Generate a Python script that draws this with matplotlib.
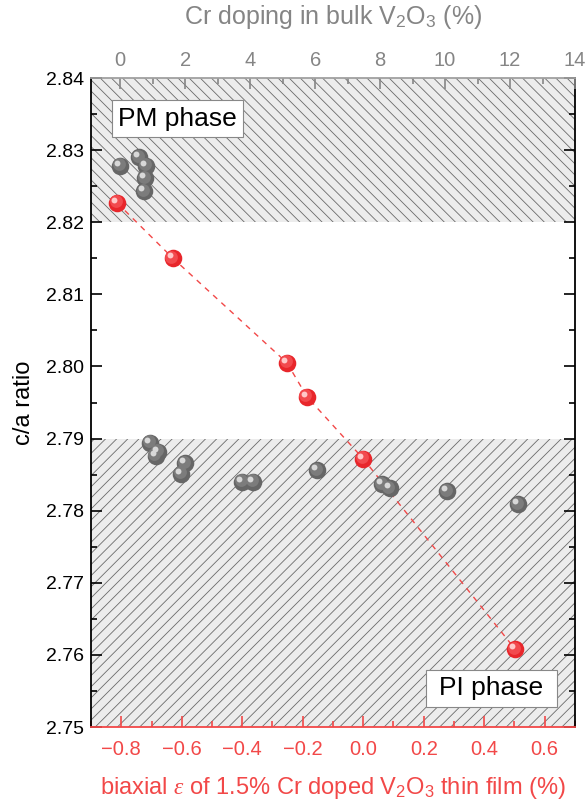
import matplotlib

matplotlib.use("Agg")
import matplotlib.pyplot as plt
import numpy as np
from matplotlib.patches import Rectangle
from matplotlib.transforms import offset_copy

plt.rcParams["font.family"] = ["Liberation Sans", "DejaVu Sans"]
plt.rcParams["hatch.linewidth"] = 0.6
plt.rcParams["mathtext.fontset"] = "custom"
plt.rcParams["mathtext.rm"] = "Liberation Sans"
plt.rcParams["mathtext.it"] = "Liberation Serif:italic"

# thin film strain (bottom axis) vs c/a
strain = [-0.814, -0.629, -0.252, -0.186, 0.0, 0.502]
ca_film = [2.8227, 2.8150, 2.8005, 2.7958, 2.7872, 2.7608]

# bulk Cr doping (top axis) vs c/a
cr_pm = [0.0, 0.58, 0.80, 0.77, 0.74]
ca_pm = [2.8278, 2.8290, 2.8278, 2.8261, 2.8243]
cr_pi = [0.92, 1.10, 1.17, 2.00, 1.88, 3.75, 4.09, 6.06, 8.06, 8.30, 10.06, 12.25]
ca_pi = [2.7894, 2.7876, 2.7882, 2.7866, 2.7851, 2.7840, 2.7840, 2.7856, 2.7837, 2.7831, 2.7827, 2.7809]

RED = "#f24848"
GRAY = "#858585"


def sphere(ax, x, y, base, mid, light, z=5):
    fig = ax.figure
    ax.scatter(x, y, s=160, color=base, zorder=z, linewidths=0)
    t1 = offset_copy(ax.transData, fig=fig, x=-1.5, y=1.5, units="dots")
    ax.scatter(x, y, s=85, color=mid, zorder=z + 0.1, linewidths=0, transform=t1)
    t2 = offset_copy(ax.transData, fig=fig, x=-3, y=3, units="dots")
    ax.scatter(x, y, s=18, color=light, zorder=z + 0.2, linewidths=0, transform=t2)


def label_box(ax, x0, x1, y0, y1, text):
    ax.add_patch(Rectangle((x0, y0), x1 - x0, y1 - y0, transform=ax.transAxes,
                           facecolor="white", edgecolor="#888888", lw=0.8, zorder=9))
    ax.text((x0 + x1) / 2, (y0 + y1) / 2, text, transform=ax.transAxes, fontsize=19,
            ha="center", va="center", zorder=10)


fig = plt.figure(figsize=(5.86, 8.06), dpi=100)
ax = fig.add_axes([0.1553, 0.098, 0.8259, 0.8052])

ax.axhspan(2.82, 2.84, facecolor="#ececec", edgecolor="#6a6a6a", hatch="\\\\\\", linewidth=0, zorder=0)
ax.axhspan(2.75, 2.79, facecolor="#ececec", edgecolor="#6a6a6a", hatch="///", linewidth=0, zorder=0)

ax.plot(strain, ca_film, ls=(0, (4, 4)), color=RED, lw=1, zorder=3)
sphere(ax, strain, ca_film, "#e8262b", "#f24a4e", "#ffc8c8")

ax.set_xlim(-0.9, 0.7)
ax.set_ylim(2.75, 2.84)
ax.set_xticks(np.arange(-0.8, 0.61, 0.2))
ax.set_xticks(np.arange(-0.9, 0.71, 0.1), minor=True)
ax.set_xticklabels(["\u22120.8", "\u22120.6", "\u22120.4", "\u22120.2", "0.0", "0.2", "0.4", "0.6"])
ax.set_yticks(np.arange(2.75, 2.8401, 0.01))
ax.set_yticks(np.arange(2.75, 2.8401, 0.005), minor=True)
ax.set_yticklabels([f"{v:.2f}" for v in np.arange(2.75, 2.8401, 0.01)])
ax.tick_params(axis="x", which="both", direction="in", colors=RED, labelsize=14.5, pad=9)
ax.tick_params(axis="x", which="major", length=8, width=1.2)
ax.tick_params(axis="x", which="minor", length=4, width=1.2)
ax.tick_params(axis="y", which="both", direction="in", right=True, labelsize=14, width=1.2, pad=5)
ax.tick_params(axis="y", which="major", length=8)
ax.tick_params(axis="y", which="minor", length=4)
ax.spines["bottom"].set_color(RED)
ax.spines["top"].set_visible(False)
for s in ["left", "right", "bottom"]:
    ax.spines[s].set_linewidth(1.3)
ax.set_ylabel("c/a ratio", fontsize=17, labelpad=8)
ax.set_xlabel(r"biaxial $\varepsilon$ of 1.5% Cr doped V$_2$O$_3$ thin film (%)", color=RED, fontsize=17, labelpad=12)

ax2 = ax.twiny()
ax2.set_xlim(-0.9, 14)
ax2.set_xticks(np.arange(0, 14.1, 2))
ax2.set_xticks(np.arange(0, 14.1, 1), minor=True)
ax2.tick_params(axis="x", which="both", direction="in", colors=GRAY, labelsize=14.5, pad=6, width=1.2)
ax2.tick_params(axis="x", which="major", length=8)
ax2.tick_params(axis="x", which="minor", length=4)
ax2.spines["top"].set_color("#a0a0a0")
ax2.spines["top"].set_linewidth(1.3)
for s in ["left", "right", "bottom"]:
    ax2.spines[s].set_visible(False)
ax2.set_xlabel(r"Cr doping in bulk V$_2$O$_3$ (%)", color=GRAY, fontsize=18, labelpad=19)

sphere(ax2, cr_pm, ca_pm, "#666666", "#7c7c7c", "#d8d8d8")
sphere(ax2, cr_pi, ca_pi, "#666666", "#7c7c7c", "#d8d8d8")

label_box(ax2, 0.0434, 0.314, 0.909, 0.966, "PM phase")
label_box(ax2, 0.692, 0.963, 0.031, 0.088, "PI phase")

fig.savefig("out.png", dpi=100)
plt.close(fig)
